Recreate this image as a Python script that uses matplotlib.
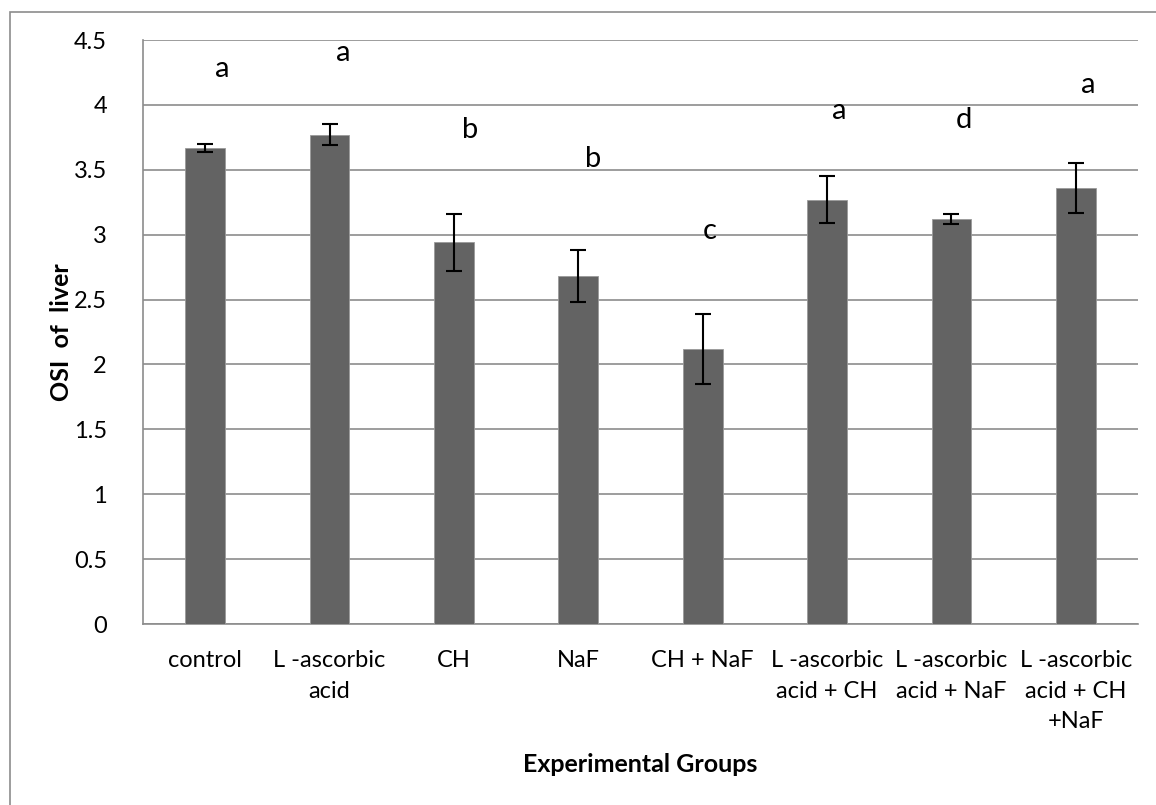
import matplotlib.pyplot as plt
from matplotlib.patches import Rectangle

plt.rcParams['font.family'] = ['Lato', 'DejaVu Sans']

# data
groups = ["control", "L -ascorbic\nacid", "CH", "NaF", "CH + NaF",
          "L -ascorbic\nacid + CH", "L -ascorbic\nacid + NaF", "L -ascorbic\nacid + CH\n+NaF"]
osi = [3.67, 3.77, 2.94, 2.68, 2.12, 3.27, 3.12, 3.36]
err = [0.03, 0.08, 0.22, 0.20, 0.27, 0.18, 0.04, 0.19]
letters = ["a", "a", "b", "b", "c", "a", "d", "a"]
letter_y = [4.28, 4.40, 3.81, 3.58, 3.03, 3.95, 3.88, 4.15]
letter_dx = [0.14, 0.11, 0.13, 0.12, 0.06, 0.10, 0.10, 0.10]

fig = plt.figure(figsize=(11.56, 8.05), dpi=100)
ax = fig.add_axes([0.1237, 0.2248, 0.8607, 0.7255])

# outer chart frame
fig.patches.append(Rectangle((10 / 1156, -0.1), 1.2, (805 - 12) / 805 + 0.1,
                             transform=fig.transFigure, fill=False,
                             edgecolor="#8c8c8c", linewidth=1.2))

x = range(len(groups))
ax.bar(x, osi, width=0.32, color="#636363", edgecolor="#9a9a9a", linewidth=0.6, zorder=3)
ax.errorbar(x, osi, yerr=err, fmt="none", ecolor="black", elinewidth=1.5,
            capsize=6, capthick=1.5, zorder=4)

for i in x:
    ax.text(i + letter_dx[i], letter_y[i], letters[i], ha="center", va="center",
            fontsize=21, zorder=5)

ax.set_xlim(-0.5, len(groups) - 0.5)
ax.set_ylim(0, 4.5)
ax.set_yticks([0, 0.5, 1, 1.5, 2, 2.5, 3, 3.5, 4, 4.5])
ax.set_yticklabels(["0", "0.5", "1", "1.5", "2", "2.5", "3", "3.5", "4", "4.5"])
ax.set_xticks(list(x))
ax.set_xticklabels(groups, linespacing=1.55, va="top")
ax.tick_params(axis="both", length=0, labelsize=17)
ax.tick_params(axis="y", pad=26)
ax.tick_params(axis="x", pad=19)

ax.grid(axis="y", color="#8c8c8c", linewidth=1.2, zorder=0)
for s in ["top", "right"]:
    ax.spines[s].set_visible(False)
ax.spines["left"].set_color("#8c8c8c")
ax.spines["bottom"].set_color("#8c8c8c")
ax.spines["left"].set_linewidth(1.2)
ax.spines["bottom"].set_linewidth(1.2)

ax.set_ylabel("OSI  of  liver", fontsize=18, fontweight="bold", va="center")
ax.set_xlabel("Experimental Groups", fontsize=18, fontweight="bold", va="center")
ax.yaxis.set_label_coords(-0.082, 0.5)
ax.xaxis.set_label_coords(0.5, -0.241)

fig.savefig("out.png", dpi=100)
